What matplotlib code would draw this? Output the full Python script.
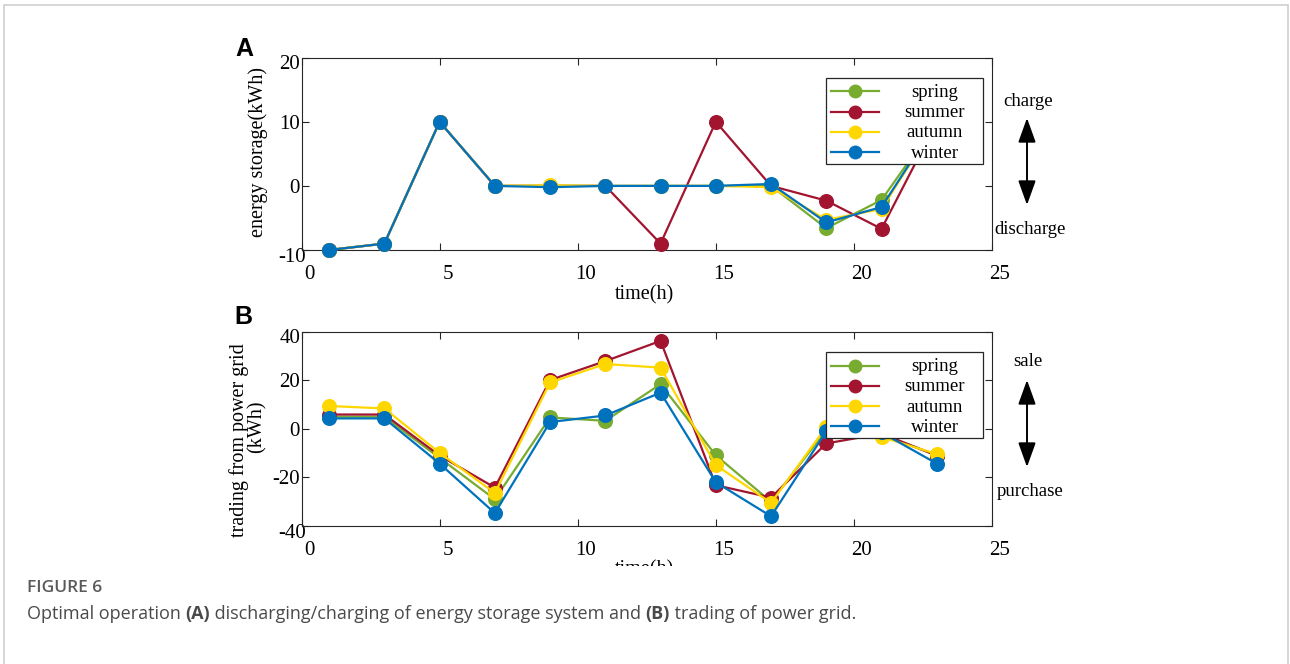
import matplotlib
matplotlib.use("Agg")
import matplotlib.pyplot as plt
from matplotlib.patches import Rectangle, FancyArrowPatch
from matplotlib.lines import Line2D
from matplotlib.transforms import ScaledTranslation, Bbox, TransformedBbox

# ---------------- data ----------------
hours = [1, 3, 5, 7, 9, 11, 13, 15, 17, 19, 21, 23]
seasons = ["spring", "summer", "autumn", "winter"]
colors = ["#77AC30", "#A2142F", "#FFD700", "#0072BD"]

storage_spring = [-10, -9, 10, 0, 0, 0, 0, 0, 0, -6.6, -2.2, 10]
storage_summer = [-10, -9, 10, 0, 0, 0, -9, 10, 0, -2.3, -6.7, 10]
storage_autumn = [-10, -9, 10, 0, 0.1, 0, 0, 0, -0.2, -5.3, -3.6, 10]
storage_winter = [-10, -9, 10, 0, -0.2, 0, 0, 0, 0.3, -5.7, -3.3, 10]

grid_spring = [5, 5, -12, -29, 4.7, 3.3, 18.4, -10.9, -30, -0.5, -2, -11]
grid_summer = [5.9, 5.9, -11, -24.2, 20.1, 27.9, 36.2, -23.2, -28.3, -6, -2, -11]
grid_autumn = [9.4, 8.4, -9.9, -26.4, 19.1, 26.7, 25.2, -14.9, -30.5, 0.8, -3.3, -10.4]
grid_winter = [4.3, 4.3, -14.3, -34.7, 2.8, 5.5, 14.9, -22, -36, -1, -1.5, -14.3]

xticks = [0, 5, 10, 15, 20, 25]
yticks_a = [-10, 0, 10, 20]
yticks_b = [-40, -20, 0, 20, 40]

# ---------------- figure ----------------
W, H, DPI = 1290, 664, 100
fig = plt.figure(figsize=(W / DPI, H / DPI), dpi=DPI)
fig.patch.set_facecolor("white")

SERIF = "Liberation Serif"
AXC = "#262626"
TICK_FS = 15


def fx(px):
    return px / W


def fy(py):
    return 1 - py / H


def add_axes_px(left, top, right, bottom):
    return fig.add_axes([fx(left), fy(bottom), (right - left) / W, (bottom - top) / H])


# outer frame of the page figure
frame = Rectangle((fx(4), fy(720)), fx(1288) - fx(4), fy(5) - fy(720),
                  transform=fig.transFigure, facecolor="none",
                  edgecolor="#cfcfcf", lw=1.2, zorder=0)
fig.add_artist(frame)


def style_axes(ax, yticks, ylim):
    ax.set_xlim(0, 25)
    ax.set_ylim(*ylim)
    ax.set_xticks(xticks)
    ax.set_yticks(yticks)
    ax.set_xticklabels([str(v) for v in xticks])
    ax.set_yticklabels([str(v) for v in yticks])
    for s in ax.spines.values():
        s.set_color(AXC)
        s.set_linewidth(0.8)
    ax.tick_params(direction="in", length=5, width=0.8, colors=AXC,
                   top=True, right=True, labelsize=TICK_FS, labelcolor="black")
    ax.tick_params(axis="x", pad=11)
    ax.tick_params(axis="y", pad=1)
    for lab in ax.get_xticklabels() + ax.get_yticklabels():
        lab.set_family(SERIF)
    # small label offsets as in reference
    for lab in ax.get_xticklabels():
        lab.set_transform(lab.get_transform() + ScaledTranslation(8 / DPI, 0, fig.dpi_scale_trans))
    ylabs = ax.get_yticklabels()
    ylabs[0].set_transform(ylabs[0].get_transform() + ScaledTranslation(6 / DPI, -5 / DPI, fig.dpi_scale_trans))
    ylabs[-1].set_transform(ylabs[-1].get_transform() + ScaledTranslation(0, -4 / DPI, fig.dpi_scale_trans))


def plot_series(ax, series):
    for vals, c in zip(series, colors):
        ax.plot(hours, vals, "-o", color=c, lw=1.6, ms=9.8, mfc=c, mec=c,
                clip_on=False, zorder=3)


def draw_legend(top, bottom, left=826, right=982.7):
    rect = Rectangle((fx(left), fy(bottom)), fx(right) - fx(left), fy(top) - fy(bottom),
                     transform=fig.transFigure, facecolor="white",
                     edgecolor=AXC, lw=0.9, zorder=10)
    fig.add_artist(rect)
    n = len(seasons)
    row0 = top + 13.5
    step = (bottom - top - 25.5) / (n - 1)
    for i, (name, c) in enumerate(zip(seasons, colors)):
        y = row0 + i * step
        fig.add_artist(Line2D([fx(831.5), fx(878.5)], [fy(y), fy(y)],
                              transform=fig.transFigure, color=c, lw=1.6, zorder=11))
        fig.add_artist(Line2D([fx(854.5)], [fy(y)], marker="o", ms=9, color=c,
                              mfc=c, mec=c, transform=fig.transFigure, zorder=12))
        fig.text(fx(935), fy(y + 1), name, ha="center", va="center",
                 fontsize=13.5, family=SERIF, zorder=12)


def draw_side(top_text, bottom_text, y_top_text, y_arrow0, y_arrow1, y_bottom_text):
    fig.text(fx(1028), fy(y_top_text), top_text, ha="center", va="center",
             fontsize=13.5, family=SERIF)
    fig.text(fx(1030), fy(y_bottom_text), bottom_text, ha="center", va="center",
             fontsize=13.5, family=SERIF)
    arr = FancyArrowPatch((fx(1027), fy(y_arrow0)), (fx(1027), fy(y_arrow1)),
                          transform=fig.transFigure,
                          arrowstyle="<|-|>,head_length=0.75,head_width=0.27",
                          mutation_scale=20, color="black", lw=1.4,
                          shrinkA=0, shrinkB=0)
    fig.add_artist(arr)


# ---------------- panel A ----------------
axA = add_axes_px(301.5, 57.7, 992, 250)
style_axes(axA, yticks_a, (-10, 20))
plot_series(axA, [storage_spring, storage_summer, storage_autumn, storage_winter])
axA.set_xlabel("time(h)", family=SERIF, fontsize=14.5)
axA.xaxis.set_label_coords(0.497, -(285 - 250) / (250 - 57.7))
axA.set_ylabel("energy storage(kWh)", family=SERIF, fontsize=14.5)
axA.yaxis.set_label_coords((268 - 301.5) / 690.5, 0.51)
draw_legend(77.7, 164.3)
draw_side("charge", "discharge", 101.7, 118, 205, 230)
fig.text(fx(244), fy(49), "A", ha="center", va="center", fontsize=18,
         fontweight="bold", family="Liberation Sans")

# ---------------- panel B ----------------
axB = add_axes_px(301.5, 331.7, 992, 526)
style_axes(axB, yticks_b, (-40, 40))
plot_series(axB, [grid_spring, grid_summer, grid_autumn, grid_winter])
xlB = axB.set_xlabel("time(h)", family=SERIF, fontsize=14.5)
axB.xaxis.set_label_coords(0.497, -(560 - 526) / (526 - 331.7))
xlB.set_clip_box(TransformedBbox(Bbox.from_extents(0, fy(566), 1, 1), fig.transFigure))
xlB.set_clip_on(True)
axB.set_ylabel("trading from power grid", family=SERIF, fontsize=14.5)
axB.yaxis.set_label_coords((249 - 301.5) / 690.5, 1 - (440 - 331.7) / (526 - 331.7))
fig.text(fx(257), fy(427), "(kWh)", ha="center", va="center", rotation=90,
         fontsize=14.5, family=SERIF)
draw_legend(352, 438.3)
draw_side("sale", "purchase", 361.7, 380, 467, 491.7)
fig.text(fx(243), fy(317), "B", ha="center", va="center", fontsize=18,
         fontweight="bold", family="Liberation Sans")

# ---------------- caption ----------------
CAP = "Open Sans"
fig.text(fx(27), fy(588), "FIGURE 6", ha="left", va="center", fontsize=12.5,
         fontweight="semibold", family=CAP, color="#5a5a5a")

pieces = [("Optimal operation ", "normal"), ("(A)", "bold"),
          (" discharging/charging of energy storage system and ", "normal"),
          ("(B)", "bold"), (" trading of power grid.", "normal")]
cap_texts = []
for txt, wt in pieces:
    cap_texts.append(fig.text(fx(27), fy(619), txt, ha="left", va="baseline",
                              fontsize=13, fontweight=wt, family=CAP,
                              color="#4a4a4a"))

# chain positions using renderer extents
renderer = fig.canvas.get_renderer()
x0 = fx(27)
for t in cap_texts:
    t.set_position((x0, fy(619)))
    bb = t.get_window_extent(renderer=renderer)
    x0 = x0 + bb.width / W

fig.savefig("out.png", dpi=DPI, facecolor="white")
